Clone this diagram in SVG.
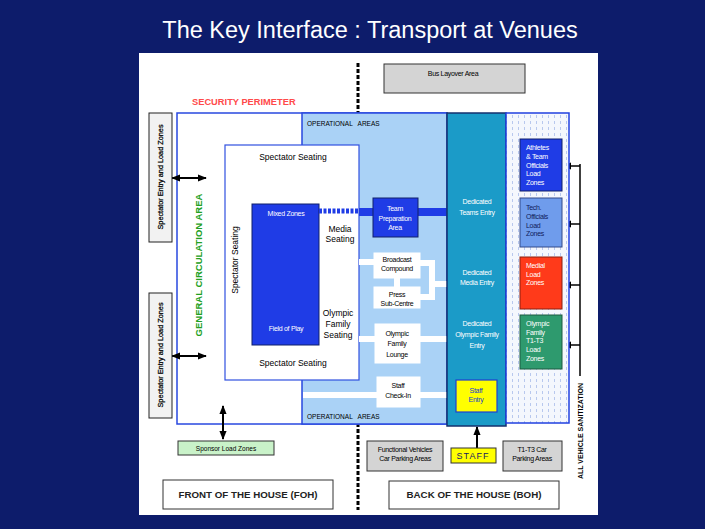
<svg xmlns="http://www.w3.org/2000/svg" width="705" height="529" viewBox="0 0 705 529">
<defs>
<marker id="ah" viewBox="0 0 10 8" refX="9" refY="4" markerWidth="9" markerHeight="8" markerUnits="userSpaceOnUse" orient="auto-start-reverse"><path d="M0,0 L10,4 L0,8 z" fill="#000"/></marker>
<pattern id="dots" width="6" height="6" patternUnits="userSpaceOnUse"><rect width="6" height="6" fill="#f4f7fd"/><rect x="2" y="1" width="1" height="3" fill="#b8c8ee"/></pattern>
<style>
text{font-family:"Liberation Sans",Arial,sans-serif;}
.s{font-size:7px;fill:#000;text-anchor:middle;letter-spacing:-0.3px;}
.w{font-size:7px;fill:#fff;text-anchor:middle;letter-spacing:-0.3px;}
.zl{font-size:7px;fill:#fff;letter-spacing:-0.3px;}
.m{font-size:8.5px;fill:#000;text-anchor:middle;}
.wb{fill:#fff;stroke:#fff;}
.wl{stroke:#fff;stroke-width:6;fill:none;}
.ln{stroke:#000;stroke-width:2;fill:none;}
.grey{fill:#d4d4d4;stroke:#333;stroke-width:1;}
.se{font-size:7.3px;fill:#000;text-anchor:middle;stroke:#000;stroke-width:0.25;}
</style>
</defs>
<rect width="705" height="529" fill="#0d1c6b"/>
<text x="370" y="38" font-size="23.5" fill="#fff" text-anchor="middle">The Key Interface : Transport at Venues</text>
<rect x="139" y="53" width="459" height="462" fill="#fff"/>

<line x1="358" y1="63" x2="358" y2="510" stroke="#000" stroke-width="3" stroke-dasharray="4 2"/>

<g id="bus-layover"><rect x="384" y="64" width="141" height="29" class="grey"/><text x="453" y="76" class="s">Bus Layover Area</text></g>
<text x="192" y="105" font-size="9.3" font-weight="bold" fill="#ff4a4a">SECURITY PERIMETER</text>

<g id="perimeter"><rect x="177" y="113" width="270" height="311" fill="#fff" stroke="#2848e0" stroke-width="1.5"/></g>
<g id="operational-areas"><rect x="302" y="113" width="145" height="311" fill="#aad2f6" stroke="#2848e0" stroke-width="1.5"/>
<text x="307" y="126" font-size="6.5" fill="#000" xml:space="preserve">OPERATIONAL   AREAS</text>
<text x="307" y="419" font-size="6.5" fill="#000" xml:space="preserve">OPERATIONAL   AREAS</text></g>

<g id="stadium"><rect x="225" y="145" width="134" height="235" fill="#fff" stroke="#3050e0" stroke-width="1.2"/>
<text x="293" y="160" class="m">Spectator Seating</text>
<text x="293" y="366" class="m">Spectator Seating</text>
<text transform="translate(238,260) rotate(-90)" class="m">Spectator Seating</text>
<text x="340" y="232" class="m">Media</text><text x="340" y="242" class="m">Seating</text>
<text x="338" y="316" class="m">Olympic</text><text x="338" y="327" class="m">Family</text><text x="338" y="338" class="m">Seating</text></g>
<g id="field-of-play"><rect x="252" y="204" width="67" height="141" fill="#1f3ce6" stroke="#10206a" stroke-width="1"/>
<text x="286" y="216" class="w">Mixed Zones</text><text x="286" y="331" class="w">Field of Play</text></g>

<g id="connectors">
<line x1="319" y1="211" x2="359" y2="211" stroke="#1f3ce6" stroke-width="5" stroke-dasharray="3 1.5"/>
<line x1="359" y1="212" x2="447" y2="212" stroke="#1f3ce6" stroke-width="8"/>
<line x1="359" y1="262" x2="374" y2="262" class="wl"/>
<polyline points="420,263 432,263 432,297 420,297" class="wl"/>
<line x1="432" y1="284" x2="447" y2="284" class="wl"/>
<line x1="397" y1="278" x2="397" y2="287" class="wl"/>
<line x1="359" y1="339" x2="375" y2="339" class="wl"/>
<line x1="420" y1="339" x2="447" y2="339" class="wl"/>
<line x1="303" y1="395" x2="377" y2="395" class="wl"/>
<line x1="420" y1="395" x2="447" y2="395" class="wl"/>
<line x1="172" y1="178" x2="206" y2="178" class="ln" marker-start="url(#ah)" marker-end="url(#ah)"/>
<line x1="172" y1="356" x2="206" y2="356" class="ln" marker-start="url(#ah)" marker-end="url(#ah)"/>
<line x1="223" y1="406" x2="223" y2="439" class="ln" marker-start="url(#ah)" marker-end="url(#ah)"/>
<line x1="477" y1="448" x2="477" y2="427" class="ln" marker-end="url(#ah)"/>
<line x1="506" y1="198" x2="520" y2="178" class="ln" marker-start="url(#ah)" marker-end="url(#ah)"/>
<line x1="506" y1="198" x2="520" y2="217" class="ln" marker-start="url(#ah)" marker-end="url(#ah)"/>
<line x1="505" y1="272" x2="520" y2="272" class="ln" marker-start="url(#ah)" marker-end="url(#ah)"/>
<line x1="505" y1="330" x2="520" y2="330" class="ln" marker-start="url(#ah)" marker-end="url(#ah)"/>
<line x1="580" y1="164" x2="580" y2="376" stroke="#000" stroke-width="1.5"/>
<line x1="580" y1="166" x2="563" y2="166" stroke="#000" stroke-width="1.5" marker-end="url(#ah)"/>
<line x1="580" y1="224" x2="563" y2="224" stroke="#000" stroke-width="1.5" marker-end="url(#ah)"/>
<line x1="580" y1="285" x2="563" y2="285" stroke="#000" stroke-width="1.5" marker-end="url(#ah)"/>
<line x1="580" y1="345" x2="563" y2="345" stroke="#000" stroke-width="1.5" marker-end="url(#ah)"/>
</g>

<g id="team-prep"><rect x="373" y="198" width="45" height="39" fill="#1f3ce6" stroke="#10206a" stroke-width="1"/>
<text x="395" y="211" class="w">Team</text><text x="395" y="221" class="w">Preparation</text><text x="395" y="230" class="w">Area</text></g>
<g id="broadcast"><rect x="374" y="253" width="46" height="25" class="wb"/><text x="397" y="262" class="s">Broadcast</text><text x="397" y="271" class="s">Compound</text></g>
<g id="press"><rect x="374" y="287" width="46" height="21" class="wb"/><text x="397" y="297" class="s">Press</text><text x="397" y="306" class="s">Sub-Centre</text></g>
<g id="lounge"><rect x="375" y="324" width="45" height="39" class="wb"/><text x="397" y="336" class="s">Olympic</text><text x="397" y="346" class="s">Family</text><text x="397" y="357" class="s">Lounge</text></g>
<g id="staff-checkin"><rect x="377" y="377" width="43" height="30" class="wb"/><text x="398" y="388" class="s">Staff</text><text x="398" y="398" class="s">Check-In</text></g>

<g id="dedicated-entries"><rect x="447" y="113" width="59" height="313" fill="#1b9bc8" stroke="#14306e" stroke-width="1.5"/>
<text x="477" y="204" class="w">Dedicated</text><text x="477" y="215" class="w">Teams Entry</text>
<text x="477" y="275" class="w">Dedicated</text><text x="477" y="285" class="w">Media Entry</text>
<text x="477" y="326" class="w">Dedicated</text><text x="477" y="337" class="w">Olympic Family</text><text x="477" y="348" class="w">Entry</text></g>
<g id="staff-entry"><rect x="456" y="380" width="41" height="32" fill="#ffff00" stroke="#2040d0" stroke-width="1.2"/>
<text x="476" y="393" class="s" style="fill:#2040d0">Staff</text><text x="476" y="402" class="s" style="fill:#2040d0">Entry</text></g>

<g id="load-zone-area"><rect x="506" y="113" width="63" height="310" fill="url(#dots)" stroke="#2040e0" stroke-width="1.5"/></g>
<g id="athletes-zone"><rect x="520" y="139" width="42" height="52" fill="#1f3ce6" stroke="#10206a" stroke-width="1"/>
<text x="526" y="150" class="zl">Athletes</text><text x="526" y="159" class="zl">&amp; Team</text><text x="526" y="167.5" class="zl">Officials</text><text x="526" y="176" class="zl">Load</text><text x="526" y="185" class="zl">Zones</text></g>
<g id="tech-zone"><rect x="520" y="198" width="42" height="49" fill="#6f9cec" stroke="#334a8a" stroke-width="1"/>
<text x="526" y="210" class="zl" style="fill:#10205a">Tech.</text><text x="526" y="219" class="zl" style="fill:#10205a">Officials</text><text x="526" y="228" class="zl" style="fill:#10205a">Load</text><text x="526" y="236" class="zl" style="fill:#10205a">Zones</text></g>
<g id="medial-zone"><rect x="520" y="257" width="42" height="52" fill="#ff3a1a" stroke="#8a2010" stroke-width="1"/>
<text x="526" y="268" class="zl">Medial</text><text x="526" y="277" class="zl">Load</text><text x="526" y="285" class="zl">Zones</text></g>
<g id="olympic-zone"><rect x="520" y="315" width="42" height="54" fill="#2e9a6e" stroke="#1d5a40" stroke-width="1"/>
<text x="526" y="326" class="zl">Olympic</text><text x="526" y="335" class="zl">Family</text><text x="526" y="343" class="zl">T1-T3</text><text x="526" y="352" class="zl">Load</text><text x="526" y="361" class="zl">Zones</text></g>
<text transform="translate(583,431) rotate(-90)" font-size="7" font-weight="bold" fill="#000" text-anchor="middle">ALL VEHICLE SANITIZATION</text>

<g id="spectator-entry-1"><rect x="149" y="113" width="23" height="129" fill="#f2f2f2" stroke="#222" stroke-width="1"/>
<text transform="translate(163,177) rotate(-90)" class="se">Spectator Entry and Load Zones</text></g>
<g id="spectator-entry-2"><rect x="149" y="293" width="23" height="125" fill="#f2f2f2" stroke="#222" stroke-width="1"/>
<text transform="translate(163,355) rotate(-90)" class="se">Spectator Entry and Load Zones</text></g>
<text transform="translate(202,265) rotate(-90)" font-size="9.5" font-weight="bold" fill="#22a022" text-anchor="middle">GENERAL CIRCULATION AREA</text>

<g id="sponsor"><rect x="178" y="441" width="96" height="14" fill="#c9f2c9" stroke="#333" stroke-width="1"/><text x="226" y="451" font-size="6.5" fill="#000" text-anchor="middle">Sponsor Load Zones</text></g>
<g id="functional-parking"><rect x="367" y="441" width="76" height="30" class="grey"/><text x="405" y="452" class="s">Functional Vehicles</text><text x="405" y="461" class="s">Car Parking Areas</text></g>
<g id="staff"><rect x="451" y="448" width="45" height="15" fill="#ffff00" stroke="#333" stroke-width="1"/><text x="473" y="459" font-size="9" fill="#202060" text-anchor="middle" letter-spacing="1">STAFF</text></g>
<g id="t1t3-parking"><rect x="503" y="441" width="59" height="30" class="grey"/><text x="532" y="452" class="s">T1-T3 Car</text><text x="532" y="461" class="s">Parking Areas</text></g>
<g id="foh"><rect x="163" y="480" width="170" height="29" fill="#fff" stroke="#333" stroke-width="1"/><text x="248" y="498" font-size="9.5" font-weight="bold" fill="#222" text-anchor="middle" textLength="139" lengthAdjust="spacingAndGlyphs">FRONT OF THE HOUSE (FOH)</text></g>
<g id="boh"><rect x="389" y="481" width="170" height="28" fill="#fff" stroke="#333" stroke-width="1"/><text x="474" y="498" font-size="9.5" font-weight="bold" fill="#222" text-anchor="middle" textLength="135" lengthAdjust="spacingAndGlyphs">BACK OF THE HOUSE (BOH)</text></g>
</svg>
